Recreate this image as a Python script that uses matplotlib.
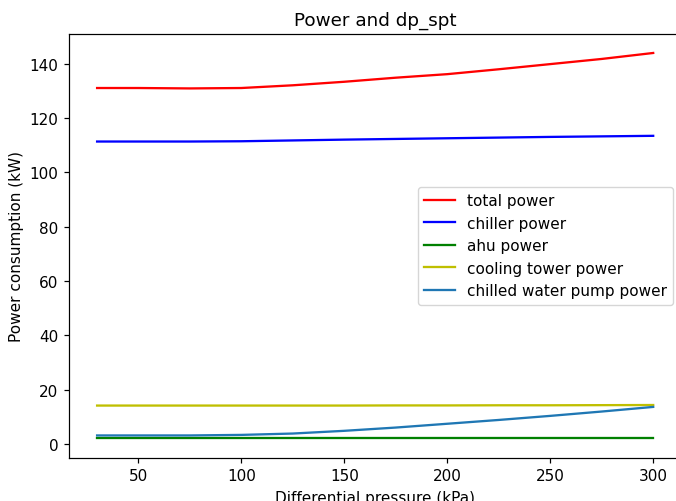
import numpy as np
import matplotlib
matplotlib.use("Agg")
from matplotlib import pyplot as plt

# differential pressure setpoints (kPa)
dp_spt = [30, 50, 75, 100, 125, 150, 175, 200, 225, 250, 275, 300]

# power of each subsystem (kW)
total_power = [131.0, 131.0, 130.85, 131.0, 132.0, 133.3, 134.8, 136.1, 137.9, 139.8, 141.7, 143.9]
chiller_power = [111.3, 111.3, 111.3, 111.4, 111.7, 112.0, 112.25, 112.5, 112.75, 113.0, 113.2, 113.4]
ahu_power = [2.0] * 12
ct_power = [14.1, 14.1, 14.1, 14.1, 14.1, 14.1, 14.15, 14.15, 14.2, 14.2, 14.25, 14.3]
pump_power = [3.1, 3.1, 3.1, 3.3, 3.8, 4.8, 6.0, 7.4, 8.8, 10.3, 11.9, 13.6]

s = 1.1  # everything drawn a bit larger than the defaults
plt.rcParams.update({
    "font.size": 10 * s,
    "lines.linewidth": 1.5 * s,
    "axes.linewidth": 0.8 * s,
    "xtick.major.size": 3.5 * s,
    "ytick.major.size": 3.5 * s,
    "xtick.major.width": 0.8 * s,
    "ytick.major.width": 0.8 * s,
    "xtick.major.pad": 3.5 * s,
    "ytick.major.pad": 3.5 * s,
    "axes.labelpad": 4.0 * s,
    "axes.titlepad": 6.0 * s,
})

fig = plt.figure(figsize=(6.76, 5.02), dpi=100)
ax = fig.add_axes([69.3 / 676, 1 - 458.7 / 502, (681 - 69.3) / 676, (458.7 - 34.7) / 502])

ax.plot(dp_spt, total_power, color="r", label="total power")
ax.plot(dp_spt, chiller_power, color="b", label="chiller power")
ax.plot(dp_spt, ahu_power, color="g", label="ahu power")
ax.plot(dp_spt, ct_power, color="y", label="cooling tower power")
ax.plot(dp_spt, pump_power, color="C0", label="chilled water pump power")

ax.set_title("Power and dp_spt")
ax.set_xlabel("Differential pressure (kPa)")
ax.set_ylabel("Power consumption (kW)")
ax.legend(loc="center right")

fig.savefig("out.png", dpi=100)
